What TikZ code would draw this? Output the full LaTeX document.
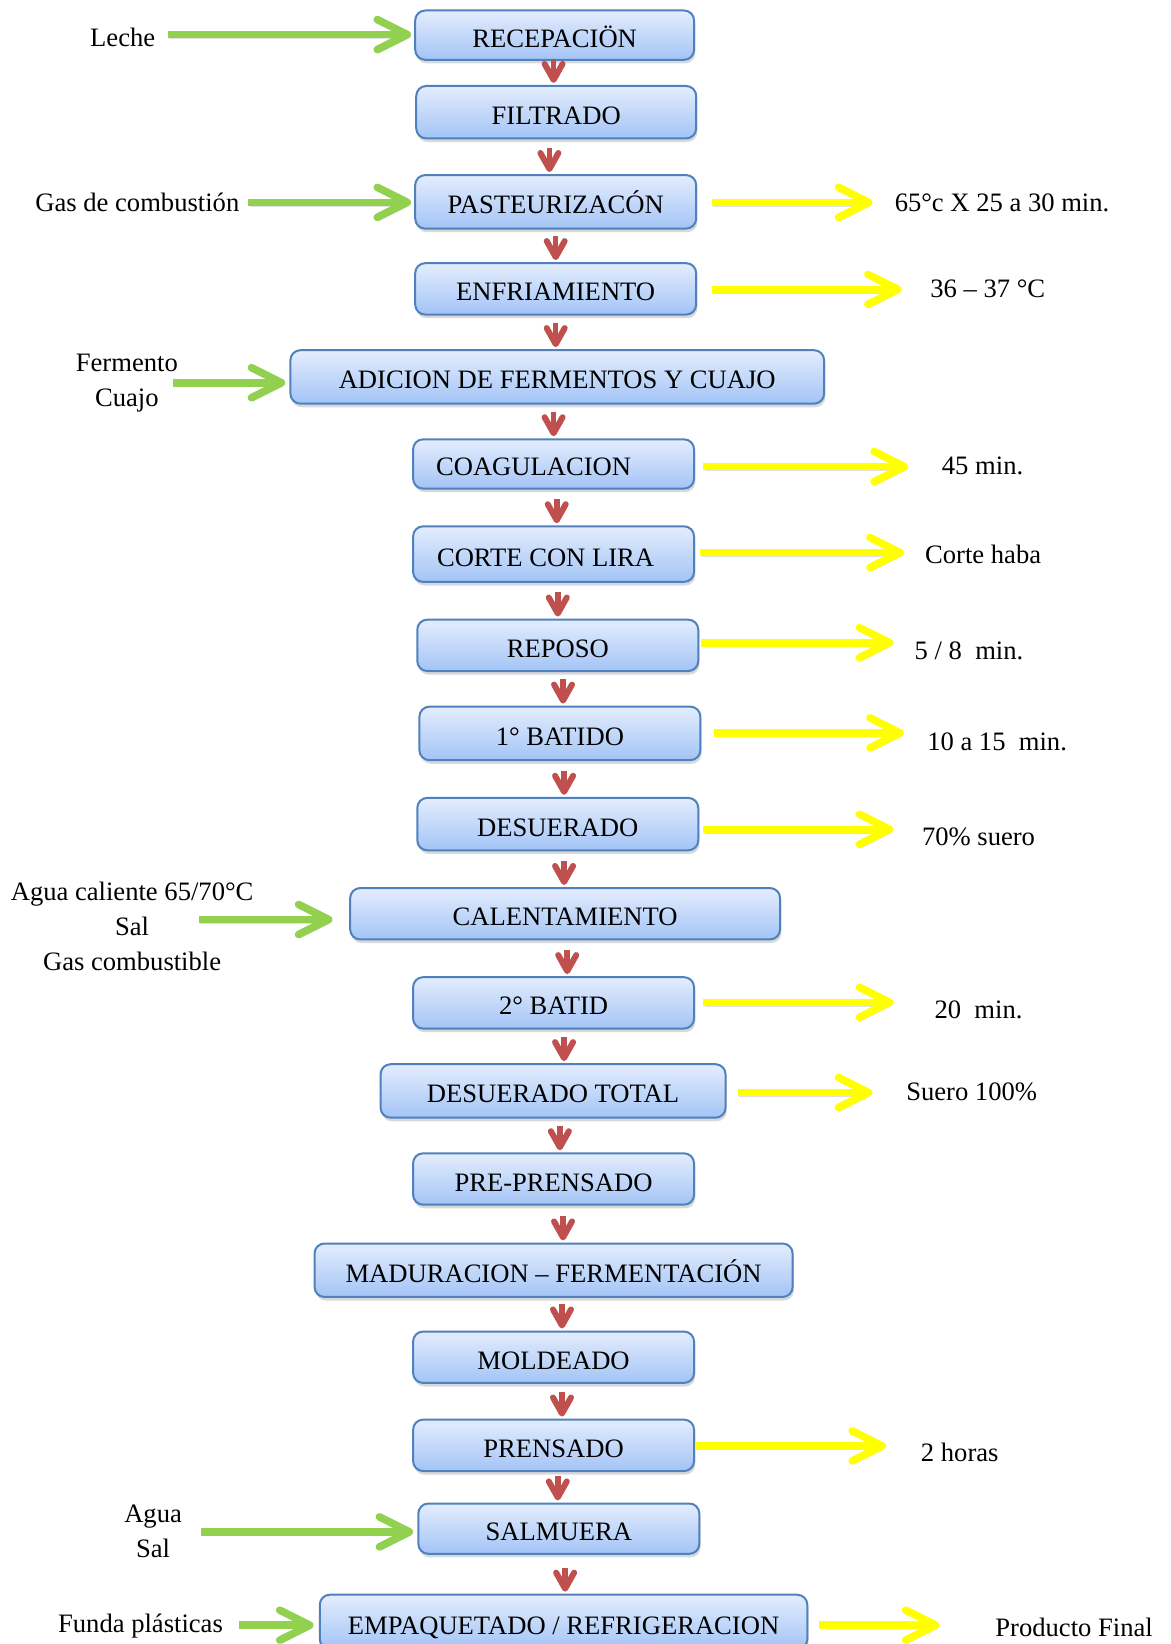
\documentclass[tikz,border=0pt]{standalone}
\usepackage{fontspec}
\setmainfont{Liberation Serif}
\usetikzlibrary{arrows.meta,shadows}
\definecolor{boxline}{RGB}{79,129,189}
\definecolor{boxtop}{RGB}{228,237,253}
\definecolor{boxbot}{RGB}{163,196,246}
\definecolor{arrgreen}{RGB}{146,208,80}
\definecolor{arryellow}{RGB}{255,255,0}
\definecolor{arrred}{RGB}{192,80,77}
\begin{document}
\begin{tikzpicture}[x=0.5242pt,y=-0.5242pt,
  every node/.style={font=\fontsize{13.3pt}{17.5pt}\selectfont},
  stepbox/.style 2 args={draw=boxline, line width=1pt, rounded corners=5pt,
    top color=boxtop, bottom color=boxbot,
    minimum width=#1*0.5242pt, minimum height=#2*0.5242pt,
    inner sep=0pt, text height=12pt, text depth=0pt,
    drop shadow={shadow xshift=0.6pt, shadow yshift=-1.8pt, opacity=0.3}},
  lbl/.style={inner sep=0pt, text height=9pt, text depth=0pt},
  lblm/.style={inner sep=0pt, align=center},
  arrshadow/.style={preaction={draw=black, opacity=0.12,
    transform canvas={shift={(0.6pt,-1.8pt)}}}},
  grn/.style={arrshadow, draw=arrgreen, line width=3.8pt,
    -{Straight Barb[length=15pt,width=15pt,line width=3.8pt,round]}},
  ylw/.style={arrshadow, draw=arryellow, line width=3.8pt,
    -{Straight Barb[length=15pt,width=15pt,line width=3.8pt,round]}},
  redarr/.style={draw=arrred, line width=2.8pt,
    -{Straight Barb[length=8pt,width=9pt,line width=3pt,round]}},
  gapA/.style={shorten <=#1*0.5242pt},
  gapB/.style={shorten >=#1*0.5242pt}]
\useasboundingbox (0,0) rectangle (1116,1568);

% process boxes
\node[stepbox={266}{47}] (recep) at (529,33.5) {RECEPACIÖN};
\node[stepbox={267}{50}] (filt) at (530.5,107) {FILTRADO};
\node[stepbox={268}{51}] (past) at (530,192.5) {PASTEURIZACÓN};
\node[stepbox={268}{49}] (enfr) at (530,275.5) {ENFRIAMIENTO};
\node[stepbox={509}{51}] (adic) at (531.5,359.5) {ADICION DE FERMENTOS Y CUAJO};
\node[stepbox={268}{47}] (coag) at (528,442.5) {COAGULACION\hspace*{20pt}};
\node[stepbox={268}{53}] (corte) at (528,528.5) {CORTE CON LIRA\hspace*{8pt}};
\node[stepbox={268}{49}] (repo) at (532,615.5) {REPOSO};
\node[stepbox={268}{51}] (bat1) at (534,699.5) {1° BATIDO};
\node[stepbox={268}{50}] (desu) at (532,786) {DESUERADO};
\node[stepbox={410}{49}] (cale) at (539,871.5) {CALENTAMIENTO};
\node[stepbox={268}{49}] (bat2) at (528,956.5) {2° BATID};
\node[stepbox={329}{51}] (dtot) at (527.5,1040.5) {DESUERADO TOTAL};
\node[stepbox={268}{49}] (pre) at (528,1124.5) {PRE-PRENSADO};
\node[stepbox={456}{51}] (madu) at (528,1211.5) {MADURACION – FERMENTACIÓN};
\node[stepbox={268}{49}] (mold) at (528,1294.5) {MOLDEADO};
\node[stepbox={268}{49}] (pren) at (528,1378.5) {PRENSADO};
\node[stepbox={268}{48}] (salm) at (533,1458) {SALMUERA};
\node[stepbox={465}{52}] (empa) at (537.5,1547) {EMPAQUETADO / REFRIGERACION};

% red flow arrows
\draw[redarr] ([shift={(-2.5,-25)}]filt.north) -- ([shift={(-2.5,-2)}]filt.north);
\draw[redarr] ([shift={(-6,-25)}]past.north) -- ([shift={(-6,-2)}]past.north);
\draw[redarr] ([shift={(0,-25)}]enfr.north) -- ([shift={(0,-2)}]enfr.north);
\draw[redarr] ([shift={(-1.5,-25)}]adic.north) -- ([shift={(-1.5,-2)}]adic.north);
\draw[redarr] ([shift={(0,-25)}]coag.north) -- ([shift={(0,-2)}]coag.north);
\draw[redarr] ([shift={(3,-25)}]corte.north) -- ([shift={(3,-2)}]corte.north);
\draw[redarr] ([shift={(0,-25)}]repo.north) -- ([shift={(0,-2)}]repo.north);
\draw[redarr] ([shift={(3,-25)}]bat1.north) -- ([shift={(3,-2)}]bat1.north);
\draw[redarr] ([shift={(6,-25)}]desu.north) -- ([shift={(6,-2)}]desu.north);
\draw[redarr] ([shift={(-1,-25)}]cale.north) -- ([shift={(-1,-2)}]cale.north);
\draw[redarr] ([shift={(13,-25)}]bat2.north) -- ([shift={(13,-2)}]bat2.north);
\draw[redarr] ([shift={(10.5,-25)}]dtot.north) -- ([shift={(10.5,-2)}]dtot.north);
\draw[redarr] ([shift={(6,-25)}]pre.north) -- ([shift={(6,-2)}]pre.north);
\draw[redarr] ([shift={(9,-25)}]madu.north) -- ([shift={(9,-2)}]madu.north);
\draw[redarr] ([shift={(8,-25)}]mold.north) -- ([shift={(8,-2)}]mold.north);
\draw[redarr] ([shift={(8,-25)}]pren.north) -- ([shift={(8,-2)}]pren.north);
\draw[redarr] ([shift={(-1,-25)}]salm.north) -- ([shift={(-1,-2)}]salm.north);
\draw[redarr] ([shift={(1.5,-25)}]empa.north) -- ([shift={(1.5,-2)}]empa.north);

% inputs (left)
\node[lbl] (tleche) at (117,36) {Leche};
\node[lbl] (tgas) at (131,193) {Gas de combustión};
\node[lblm] (tferm) at (121,365.5) {Fermento\\Cuajo};
\node[lblm] (tcal) at (126,884) {Agua caliente 65/70°C\\Sal\\Gas combustible};
\node[lblm] (tagua) at (146,1460.5) {Agua\\Sal};
\node[lbl] (tfunda) at (134,1548) {Funda plásticas};

\coordinate (gleche) at (160,33);
\coordinate (ggas) at (237,193);
\coordinate (gferm) at (165,365);
\coordinate (gcal) at (190,877);
\coordinate (gagua) at (192,1461);
\coordinate (gfunda) at (228,1550);
\draw[grn, gapB=3] (gleche) -- (gleche -| recep.west);
\draw[grn, gapB=3] (ggas) -- (ggas -| past.west);
\draw[grn, gapB=4] (gferm) -- (gferm -| adic.west);
\draw[grn, gapB=16] (gcal) -- (gcal -| cale.west);
\draw[grn, gapB=4] (gagua) -- (gagua -| salm.west);
\draw[grn, gapB=5] (gfunda) -- (gfunda -| empa.west);

% outputs (right)
\node[lbl, anchor=west] (tpast) at (853,193) {65°c X 25 a 30 min.};
\node[lbl, anchor=west] (tenfr) at (887,275) {36 – 37 °C};
\node[lbl, anchor=west] (tcoag) at (898,444) {45 min.};
\node[lbl, anchor=west] (tcorte) at (882,529) {Corte haba};
\node[lbl, anchor=west] (trepo) at (872,620) {5 / 8~~min.};
\node[lbl, anchor=west] (tbat1) at (884,707) {10 a 15~~min.};
\node[lbl, anchor=west] (tdesu) at (879,798) {70\% suero};
\node[lbl, anchor=west] (tbat2) at (891,963) {20~~min.};
\node[lbl, anchor=west] (tdtot) at (864,1041) {Suero 100\%};
\node[lbl, anchor=west] (tpren) at (878,1385) {2 horas};
\node[lbl, anchor=west] (tempa) at (949,1552) {Producto Final};

\coordinate (ypast) at (832,193);
\coordinate (yenfr) at (860,276);
\coordinate (ycoag) at (866,445);
\coordinate (ycorte) at (862,527);
\coordinate (yrepo) at (852,613);
\coordinate (ybat1) at (862,699);
\coordinate (ydesu) at (852,791);
\coordinate (ybat2) at (852,956);
\coordinate (ydtot) at (832,1042);
\coordinate (ypren) at (845,1379);
\coordinate (yempa) at (896,1550);
\draw[ylw, gapA=14] (ypast -| past.east) -- (ypast);
\draw[ylw, gapA=14] (yenfr -| enfr.east) -- (yenfr);
\draw[ylw, gapA=8] (ycoag -| coag.east) -- (ycoag);
\draw[ylw, gapA=5] (ycorte -| corte.east) -- (ycorte);
\draw[ylw, gapA=2] (yrepo -| repo.east) -- (yrepo);
\draw[ylw, gapA=12] (ybat1 -| bat1.east) -- (ybat1);
\draw[ylw, gapA=4] (ydesu -| desu.east) -- (ydesu);
\draw[ylw, gapA=8] (ybat2 -| bat2.east) -- (ybat2);
\draw[ylw, gapA=11] (ydtot -| dtot.east) -- (ydtot);
\draw[ylw, gapA=1] (ypren -| pren.east) -- (ypren);
\draw[ylw, gapA=10] (yempa -| empa.east) -- (yempa);
\end{tikzpicture}
\end{document}
